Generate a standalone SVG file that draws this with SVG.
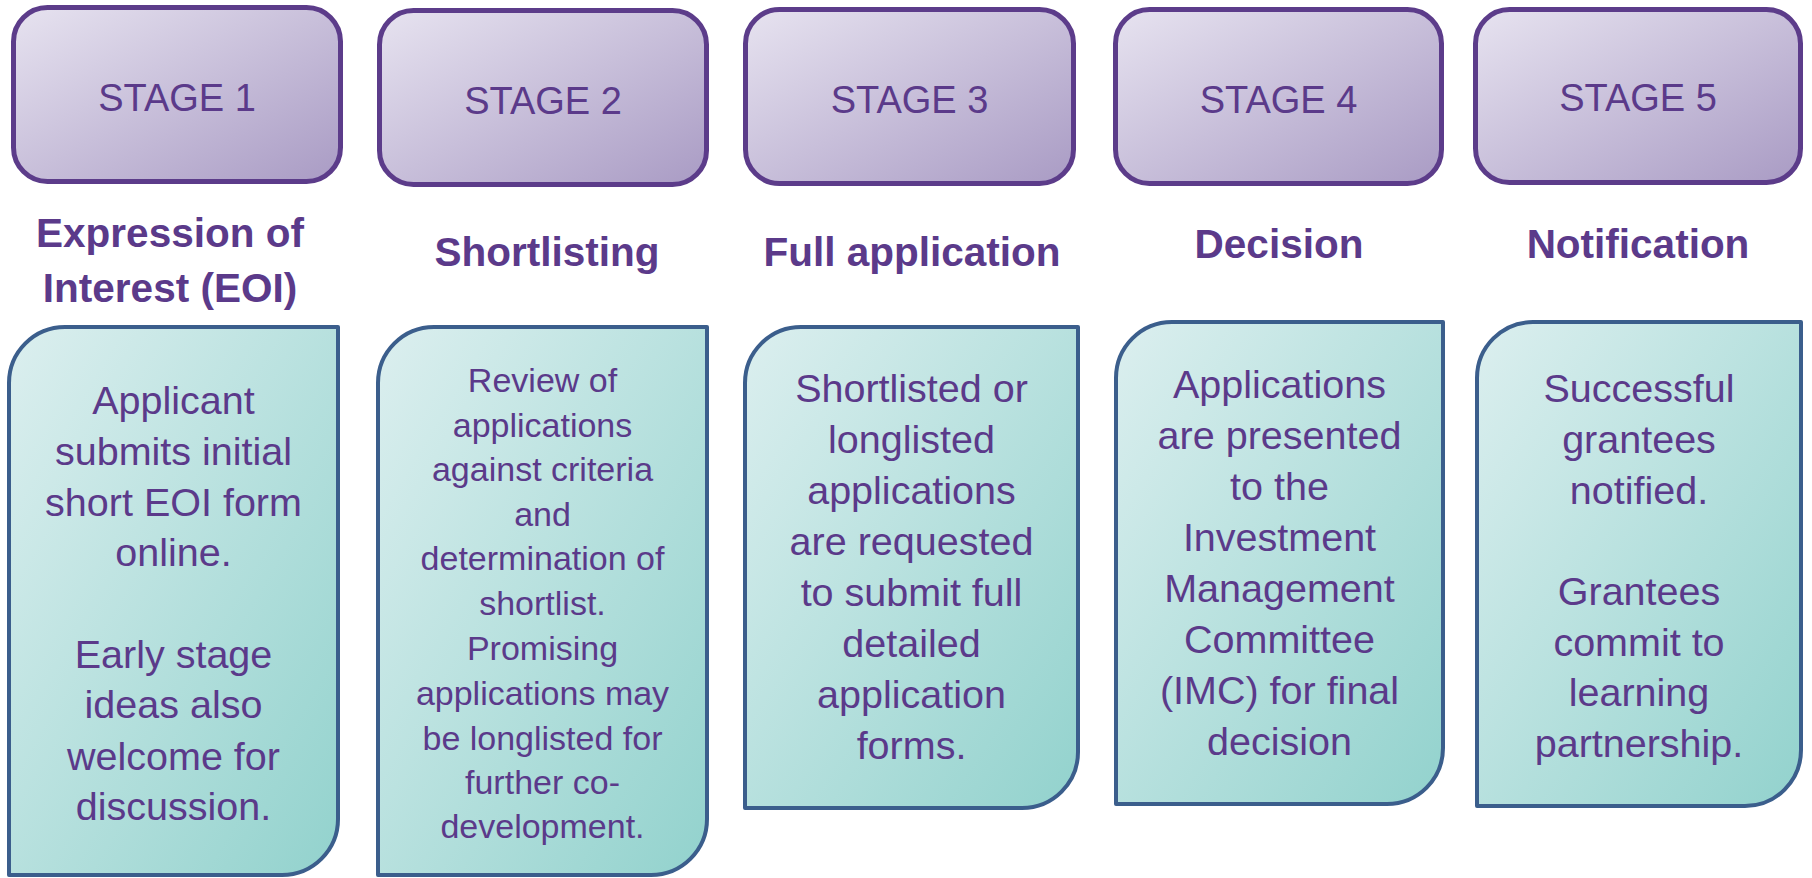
<svg xmlns="http://www.w3.org/2000/svg" width="1812" height="878" viewBox="0 0 1812 878">
<defs>
<linearGradient id="gStage" x1="0" y1="0" x2="1" y2="1">
<stop offset="0" stop-color="#e7e3f0"/>
<stop offset="1" stop-color="#a99bc4"/>
</linearGradient>
<linearGradient id="gBody" x1="0" y1="0" x2="1" y2="1">
<stop offset="0" stop-color="#dcefef"/>
<stop offset="1" stop-color="#92d2cd"/>
</linearGradient>
<style>
.stage{fill:url(#gStage);stroke:#5c3c8a;stroke-width:5}
.body{fill:url(#gBody);stroke:#3b5e8c;stroke-width:4;stroke-linejoin:round}
text{font-family:"Liberation Sans",Arial,sans-serif;fill:#5b3a8a;text-anchor:middle}
.st{font-size:38px}
.ti{font-size:40.5px;font-weight:bold}
.tx{font-size:39.5px}
.tx2{font-size:34px}
</style>
</defs>
<g id="stage1">
<rect class="stage" x="13.5" y="7.5" width="327" height="174" rx="34"/>
<text class="st" x="177" y="111">STAGE 1</text>
</g>
<g id="stage2">
<rect class="stage" x="379.5" y="10.5" width="327" height="174" rx="34"/>
<text class="st" x="543" y="114">STAGE 2</text>
</g>
<g id="stage3">
<rect class="stage" x="745.5" y="9.5" width="328" height="174" rx="34"/>
<text class="st" x="909.5" y="113">STAGE 3</text>
</g>
<g id="stage4">
<rect class="stage" x="1115.5" y="9.5" width="326" height="174" rx="34"/>
<text class="st" x="1278.5" y="113">STAGE 4</text>
</g>
<g id="stage5">
<rect class="stage" x="1475.5" y="9.5" width="325" height="173" rx="34"/>
<text class="st" x="1638" y="111">STAGE 5</text>
</g>
<g id="title1">
<text class="ti" x="170" y="247">Expression of</text>
<text class="ti" x="170" y="302">Interest (EOI)</text>
</g>
<g id="title2"><text class="ti" x="547" y="266">Shortlisting</text></g>
<g id="title3"><text class="ti" x="912" y="266">Full application</text></g>
<g id="title4"><text class="ti" x="1279" y="258">Decision</text></g>
<g id="title5"><text class="ti" x="1638" y="258">Notification</text></g>
<g id="body1">
<path class="body" d="M9,383 A56,56 0 0 1 65,327 H338 V819 A56,56 0 0 1 282,875 H9 Z"/>
<text class="tx" x="173.5" y="414">Applicant</text>
<text class="tx" x="173.5" y="465">submits initial</text>
<text class="tx" x="173.5" y="516">short EOI form</text>
<text class="tx" x="173.5" y="566">online.</text>
<text class="tx" x="173.5" y="668">Early stage</text>
<text class="tx" x="173.5" y="718">ideas also</text>
<text class="tx" x="173.5" y="770">welcome for</text>
<text class="tx" x="173.5" y="820">discussion.</text>
</g>
<g id="body2">
<path class="body" d="M378,383 A56,56 0 0 1 434,327 H707 V819 A56,56 0 0 1 651,875 H378 Z"/>
<text class="tx2" x="542.5" y="392">Review of</text>
<text class="tx2" x="542.5" y="437">applications</text>
<text class="tx2" x="542.5" y="481">against criteria</text>
<text class="tx2" x="542.5" y="526">and</text>
<text class="tx2" x="542.5" y="570">determination of</text>
<text class="tx2" x="542.5" y="615">shortlist.</text>
<text class="tx2" x="542.5" y="660">Promising</text>
<text class="tx2" x="542.5" y="705">applications may</text>
<text class="tx2" x="542.5" y="750">be longlisted for</text>
<text class="tx2" x="542.5" y="794">further co-</text>
<text class="tx2" x="542.5" y="838">development.</text>
</g>
<g id="body3">
<path class="body" d="M745,383 A56,56 0 0 1 801,327 H1078 V752 A56,56 0 0 1 1022,808 H745 Z"/>
<text class="tx" x="911.5" y="402">Shortlisted or</text>
<text class="tx" x="911.5" y="453">longlisted</text>
<text class="tx" x="911.5" y="504">applications</text>
<text class="tx" x="911.5" y="555">are requested</text>
<text class="tx" x="911.5" y="606">to submit full</text>
<text class="tx" x="911.5" y="657">detailed</text>
<text class="tx" x="911.5" y="708">application</text>
<text class="tx" x="911.5" y="759">forms.</text>
</g>
<g id="body4">
<path class="body" d="M1116,378 A56,56 0 0 1 1172,322 H1443 V748 A56,56 0 0 1 1387,804 H1116 Z"/>
<text class="tx" x="1279.5" y="398">Applications</text>
<text class="tx" x="1279.5" y="449">are presented</text>
<text class="tx" x="1279.5" y="500">to the</text>
<text class="tx" x="1279.5" y="551">Investment</text>
<text class="tx" x="1279.5" y="602">Management</text>
<text class="tx" x="1279.5" y="653">Committee</text>
<text class="tx" x="1279.5" y="704">(IMC) for final</text>
<text class="tx" x="1279.5" y="755">decision</text>
</g>
<g id="body5">
<path class="body" d="M1477,378 A56,56 0 0 1 1533,322 H1801 V750 A56,56 0 0 1 1745,806 H1477 Z"/>
<text class="tx" x="1639" y="402">Successful</text>
<text class="tx" x="1639" y="453">grantees</text>
<text class="tx" x="1639" y="504">notified.</text>
<text class="tx" x="1639" y="605">Grantees</text>
<text class="tx" x="1639" y="656">commit to</text>
<text class="tx" x="1639" y="706">learning</text>
<text class="tx" x="1639" y="757">partnership.</text>
</g>
<g id="connectors"/>
</svg>
